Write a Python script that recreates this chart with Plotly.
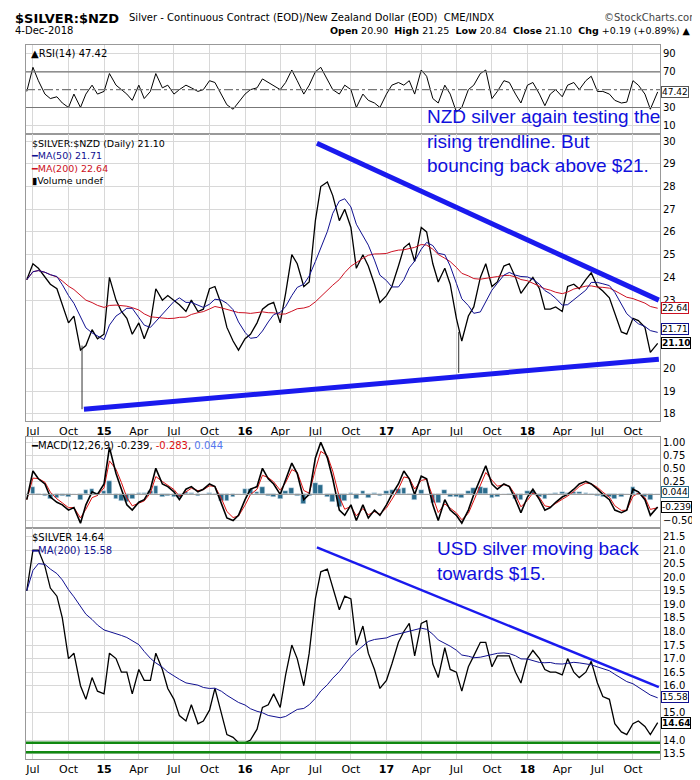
import pandas as pd
import plotly.graph_objects as go

# ---------------- data (semi-monthly readings) ----------------
dates = []
for y in range(2014, 2019):
    for m in range(1, 13):
        for d in (1, 15):
            dt = pd.Timestamp(y, m, d)
            if pd.Timestamp(2014, 6, 15) <= dt <= pd.Timestamp(2018, 11, 15):
                dates.append(dt)
dates.append(pd.Timestamp(2018, 12, 4))

nzd = [23.9, 24.6, 24.4, 24.0, 23.7, 23.5, 22.8, 22.0, 22.3, 20.8, 21.0, 21.7, 21.3,
       21.5, 24.0, 23.0, 22.5, 22.2, 21.5, 22.0, 21.3, 22.0, 23.5, 23.0, 23.2, 23.0, 22.8, 22.5, 23.0, 22.5, 22.6, 23.5, 23.6, 22.8, 21.8, 21.2, 20.8,
       21.3, 21.5, 22.0, 22.6, 22.8, 22.9, 22.0, 23.3, 25.0, 24.6, 23.6, 23.8, 26.5, 28.0, 28.2, 27.6, 26.5, 27.0, 26.2, 24.4, 25.0, 24.5, 23.7, 22.9,
       23.2, 23.6, 24.5, 25.3, 25.5, 24.7, 26.2, 26.0, 24.6, 23.8, 24.4, 23.7, 22.2, 21.2, 22.3, 22.7, 24.0, 24.6, 23.6, 23.8, 24.5, 24.6, 24.0, 23.3,
       23.7, 24.0, 23.5, 22.6, 22.6, 22.7, 22.5, 23.6, 23.7, 23.5, 23.9, 24.2, 23.6, 23.4, 23.1, 22.4, 21.6, 21.5, 22.2, 22.1, 21.8, 20.7, 21.1]

usd = [19.5, 21.0, 21.0, 20.4, 19.6, 19.3, 18.5, 17.0, 17.2, 16.0, 15.5, 16.3, 15.8,
       15.7, 17.2, 17.0, 16.5, 16.5, 15.7, 16.6, 16.2, 16.2, 17.2, 16.6, 15.9, 15.5, 14.9, 14.7, 15.3, 14.6, 14.7, 15.1, 15.9, 15.0, 14.2, 14.1, 13.9,
       13.9, 14.0, 14.4, 15.2, 15.3, 15.7, 15.2, 16.4, 17.5, 17.0, 16.0, 17.2, 19.2, 20.2, 20.3, 19.6, 18.8, 19.3, 19.2, 17.5, 18.2, 17.2, 16.6, 15.9,
       16.2, 16.8, 17.6, 18.0, 18.3, 17.1, 18.3, 18.4, 16.8, 16.3, 17.4, 16.6, 16.5, 15.8, 16.7, 17.1, 17.6, 17.6, 16.7, 17.1, 17.1, 17.1, 16.5, 16.1,
       17.0, 17.3, 17.0, 16.6, 16.5, 16.5, 16.4, 17.0, 16.5, 16.3, 16.5, 16.9, 16.1, 15.6, 15.5, 14.6, 14.3, 14.2, 14.6, 14.7, 14.5, 14.2, 14.64]

rsi = [48, 75, 60, 45, 40, 42, 35, 30, 45, 30, 45, 55, 45,
       48, 68, 55, 50, 45, 38, 55, 40, 48, 68, 52, 55, 45, 50, 55, 52, 48, 50, 60, 58, 45, 33, 28, 36,
       45, 50, 52, 62, 58, 55, 50, 58, 72, 60, 45, 55, 70, 75, 62, 50, 45, 55, 50, 30, 45, 38, 35, 30,
       45, 55, 58, 55, 60, 45, 72, 65, 40, 35, 55, 45, 25, 30, 50, 55, 68, 72, 40, 48, 60, 58, 45, 35,
       55, 58, 45, 32, 45, 50, 42, 55, 58, 50, 60, 65, 48, 48, 45, 38, 35, 36, 60, 55, 45, 28, 47.42]

macd = [-0.1, 0.45, 0.3, 0.2, -0.05, -0.15, -0.2, -0.3, -0.25, -0.55, -0.2, 0.05, 0.0,
        0.2, 0.9, 0.4, 0.1, -0.2, -0.3, -0.15, -0.1, 0.1, 0.5, 0.2, 0.15, 0.05, -0.1, 0.1, 0.15, 0.05, 0.1, 0.2, 0.15, -0.2, -0.45, -0.5, -0.4,
        -0.1, 0.1, 0.15, 0.5, 0.3, 0.2, 0.0, 0.3, 0.6, 0.4, -0.1, 0.0, 0.7, 1.0, 0.7, 0.3, -0.3, -0.4, -0.2, -0.5, -0.2, -0.45, -0.3, -0.4,
        -0.2, 0.0, 0.2, 0.45, 0.3, 0.0, 0.35, 0.3, -0.2, -0.5, -0.1, -0.3, -0.4, -0.55, -0.3, 0.0, 0.3, 0.55, 0.2, 0.1, 0.2, 0.15, -0.1, -0.35,
        -0.05, 0.1, -0.1, -0.3, -0.25, -0.15, -0.05, 0.0, 0.1, 0.2, 0.25, 0.2, 0.1, 0.0, -0.1, -0.3, -0.35, -0.3, 0.1, 0.05, -0.1, -0.4, -0.239]

# spike lows (intraday) in NZD panel
spike_dates = ["2014-11-05", "2017-07-07"]
spike_lows = [18.2, 19.8]
spike_highs = [21.0, 21.6]

# trendlines and support lines
nzd_upper_x = ["2016-07-05", "2018-12-07"]; nzd_upper_y = [29.9, 23.0]
nzd_lower_x = ["2014-11-10", "2018-12-07"]; nzd_lower_y = [18.2, 20.4]
usd_upper_x = ["2016-07-05", "2018-12-07"]; usd_upper_y = [21.1, 15.95]
usd_support = [13.9, 13.55]

rsi_ticks = [10, 30, 70, 90]
nzd_ticks = [18, 19, 20, 23, 24, 25, 26, 27, 28, 29, 30]
macd_ticks = [-0.5, 0.25, 0.5, 0.75, 1.0]
usd_ticks = [13.5, 14.0, 15.0, 16.0, 16.5, 17.0, 17.5, 18.0, 18.5, 19.0, 19.5, 20.0, 20.5, 21.0, 21.5]

s_nzd = pd.Series(nzd, index=dates)
s_usd = pd.Series(usd, index=dates)
ma50 = s_nzd.rolling("70D", min_periods=1).mean()
ma200 = s_nzd.rolling("280D", min_periods=1).mean()
usd_ma200 = s_usd.rolling("280D", min_periods=1).mean()
s_macd = pd.Series(macd, index=dates)
signal = s_macd.ewm(span=2).mean()
hist = s_macd - signal

tick_vals = []
tick_text = []
for y in range(2014, 2019):
    for m, lab in ((1, None), (4, "Apr"), (7, "Jul"), (10, "Oct")):
        dt = pd.Timestamp(y, m, 1)
        if pd.Timestamp(2014, 6, 13) <= dt <= pd.Timestamp(2018, 12, 10):
            tick_vals.append(dt)
            tick_text.append(lab if lab else "<b>%s</b>" % str(y)[2:])

# ---------------- figure ----------------
fig = go.Figure()
FONT = "DejaVu Sans"
x0, x1 = "2014-06-13", "2018-12-10"
doms = {"1": [0.875, 1.0], "2": [0.474, 0.875], "3": [0.323, 0.451], "4": [0.0, 0.323]}

fig.add_trace(go.Scatter(x=dates, y=rsi, mode="lines", line=dict(color="black", width=1), xaxis="x", yaxis="y"))
fig.add_trace(go.Scatter(x=dates, y=nzd, mode="lines", line=dict(color="black", width=1.3), xaxis="x2", yaxis="y2"))
for sd, lo, hi in zip(spike_dates, spike_lows, spike_highs):
    fig.add_trace(go.Scatter(x=[sd, sd], y=[lo, hi], mode="lines", line=dict(color="#333", width=1), xaxis="x2", yaxis="y2"))
fig.add_trace(go.Scatter(x=dates, y=ma200, mode="lines", line=dict(color="#cc1122", width=1), xaxis="x2", yaxis="y2"))
fig.add_trace(go.Scatter(x=dates, y=ma50, mode="lines", line=dict(color="#101090", width=1), xaxis="x2", yaxis="y2"))
fig.add_trace(go.Scatter(x=nzd_upper_x, y=nzd_upper_y, mode="lines", line=dict(color="#1a1aee", width=5), xaxis="x2", yaxis="y2"))
fig.add_trace(go.Scatter(x=nzd_lower_x, y=nzd_lower_y, mode="lines", line=dict(color="#1a1aee", width=5), xaxis="x2", yaxis="y2"))

fig.add_trace(go.Bar(x=dates, y=hist, marker_color="#2b6c8c", width=12 * 86400000, xaxis="x3", yaxis="y3"))
fig.add_trace(go.Scatter(x=dates, y=signal, mode="lines", line=dict(color="#dd1111", width=1), xaxis="x3", yaxis="y3"))
fig.add_trace(go.Scatter(x=dates, y=macd, mode="lines", line=dict(color="black", width=1.6), xaxis="x3", yaxis="y3"))

fig.add_trace(go.Scatter(x=dates, y=usd, mode="lines", line=dict(color="black", width=1.3), xaxis="x4", yaxis="y4"))
fig.add_trace(go.Scatter(x=dates, y=usd_ma200, mode="lines", line=dict(color="#101090", width=1), xaxis="x4", yaxis="y4"))
fig.add_trace(go.Scatter(x=usd_upper_x, y=usd_upper_y, mode="lines", line=dict(color="#1a1aee", width=2.5), xaxis="x4", yaxis="y4"))
for lvl in usd_support:
    fig.add_trace(go.Scatter(x=[x0, x1], y=[lvl, lvl], mode="lines", line=dict(color="#118811", width=2.5), xaxis="x4", yaxis="y4"))

axfont = dict(family=FONT, size=11, color="black")
for i in ("1", "2", "3", "4"):
    xa = dict(range=[x0, x1], tickvals=tick_vals, ticktext=tick_text, showgrid=True, gridcolor="#d8d8d8",
              showline=True, linecolor="#999", mirror=True, ticks="", tickfont=axfont,
              showticklabels=i in ("2", "4"), anchor="y" + ("" if i == "1" else i))
    if i != "1":
        xa["matches"] = "x"
    fig.update_layout(**{"xaxis" + ("" if i == "1" else i): xa})

ycommon = dict(side="right", showgrid=True, gridcolor="#d8d8d8", showline=True, linecolor="#999", mirror=True,
               tickfont=dict(family=FONT, size=10, color="black"), ticks="", zeroline=False)
fig.update_layout(
    yaxis=dict(domain=doms["1"], range=[0, 100], tickvals=rsi_ticks, anchor="x", **ycommon),
    yaxis2=dict(domain=doms["2"], range=[17.7, 30.3], tickvals=nzd_ticks, anchor="x2", **ycommon),
    yaxis3=dict(domain=doms["3"], range=[-0.65, 1.1], tickvals=macd_ticks, tickformat=".2f", anchor="x3", **ycommon),
    yaxis4=dict(domain=doms["4"], range=[13.3, 21.8], tickvals=usd_ticks, tickformat=".1f", anchor="x4", **ycommon),
)

# RSI reference lines
for lvl, dash in ((70, "solid"), (30, "solid"), (50, "dashdot")):
    fig.add_shape(type="line", xref="x", yref="y", x0=x0, x1=x1, y0=lvl, y1=lvl, line=dict(color="#777", width=1.2, dash=dash))
fig.add_shape(type="line", xref="x3", yref="y3", x0=x0, x1=x1, y0=0, y1=0, line=dict(color="#999", width=1))

def ann(x, y, text, size=11, color="black", xanchor="left", yanchor="top", xref="paper", yref="paper", **kw):
    fig.add_annotation(x=x, y=y, xref=xref, yref=yref, text=text, showarrow=False, xanchor=xanchor, yanchor=yanchor,
                       font=dict(family=FONT, size=size, color=color), align="left", **kw)

# header
ann(-0.02, 1.05, "<b>$SILVER:$NZD</b>", size=13)
ann(0.16, 1.049, "Silver - Continuous Contract (EOD)/New Zealand Dollar (EOD)  CME/INDX", size=10)
ann(1.065, 1.049, "©StockCharts.com", size=10, color="#444", xanchor="right")
ann(-0.02, 1.031, "4-Dec-2018", size=10)
ann(1.05, 1.031, "<b>Open</b> 20.90  <b>High</b> 21.25  <b>Low</b> 20.84  <b>Close</b> 21.10  <b>Chg</b> +0.19 (+0.89%) ▲", size=9.5, xanchor="right")

# panel legends
ann(0.005, 0.998, "▲RSI(14) 47.42", size=10)
ann(0.005, 0.873, "$SILVER:$NZD (Daily) 21.10<br><span style='color:#101090'>━MA(50) 21.71</span><br><span style='color:#cc1122'>━MA(200) 22.64</span><br>▮Volume undef", size=9.5)
ann(0.005, 0.449, "━MACD(12,26,9) -0.239, <span style='color:#dd1111'>-0.283</span>, <span style='color:#5577ee'>0.044</span>", size=10)
ann(0.005, 0.321, "$SILVER 14.64<br><span style='color:#101090'>━MA(200) 15.58</span>", size=10)

# value tags
def tag(yv, yref, text, color):
    fig.add_annotation(x=1.0, y=yv, xref="paper", yref=yref, text=text, showarrow=False, xanchor="left", xshift=1,
                       font=dict(family=FONT, size=9, color="black"), bgcolor="white", bordercolor=color, borderwidth=1, borderpad=0)
tag(47.42, "y", "47.42", "#555")
tag(22.64, "y2", "22.64", "#cc1122")
tag(21.71, "y2", "21.71", "#101090")
tag(21.10, "y2", "<b>21.10</b>", "black")
tag(0.044, "y3", "0.044", "#2b6c8c")
tag(-0.239, "y3", "-0.239", "black")
tag(15.58, "y4", "15.58", "#101090")
tag(14.64, "y4", "<b>14.64</b>", "black")

# commentary
fig.add_annotation(x=0.63, y=0.917, xref="paper", yref="paper", showarrow=False, xanchor="left", yanchor="top", align="left",
                   text="NZD silver again testing the<br>rising trendline. But<br>bouncing back above $21.",
                   font=dict(family="Liberation Sans", size=19, color="#1010dd"))
fig.add_annotation(x=0.645, y=0.313, xref="paper", yref="paper", showarrow=False, xanchor="left", yanchor="top", align="left",
                   text="USD silver moving back<br>towards $15.", font=dict(family="Liberation Sans", size=19, color="#1010dd"))

fig.update_layout(width=700, height=780, margin=dict(l=18, r=48, t=37, b=15), showlegend=False,
                  paper_bgcolor="white", plot_bgcolor="white", bargap=0)
fig.write_html("out.html")
